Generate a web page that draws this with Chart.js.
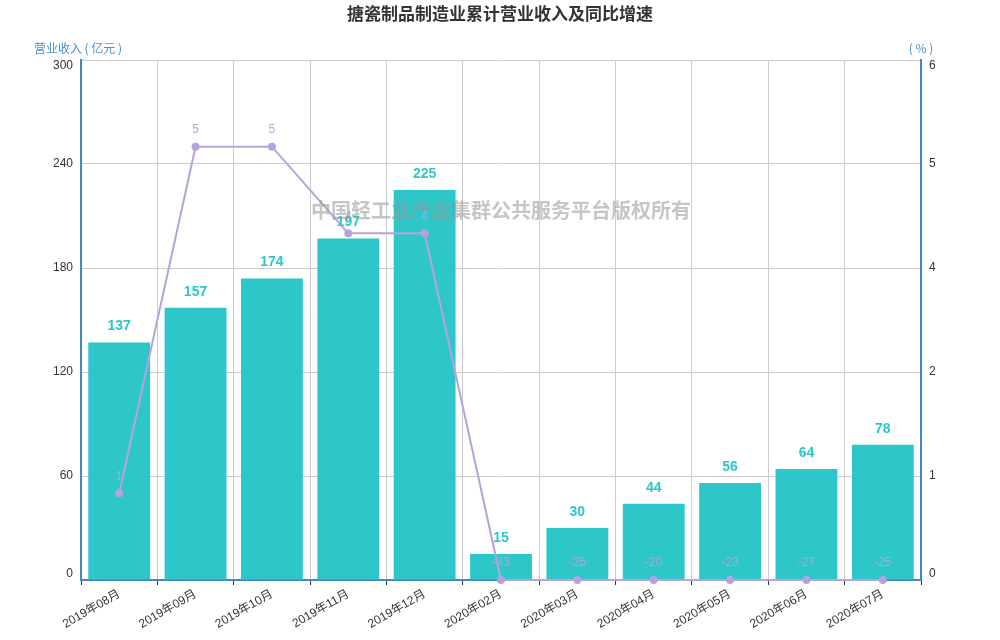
<!DOCTYPE html>
<html>
<head>
<meta charset="utf-8">
<script src="https://cdn.jsdelivr.net/npm/chart.js@4/dist/chart.umd.min.js"></script>
<style>
  html, body { margin: 0; padding: 0; background: #fff; }
  #wrap { width: 1000px; height: 640px; }
</style>
</head>
<body>
<div id="wrap"><canvas id="chart" width="1000" height="640"></canvas></div>
<script>
const months = ['2019年08月', '2019年09月', '2019年10月', '2019年11月', '2019年12月', '2020年02月', '2020年03月', '2020年04月', '2020年05月', '2020年06月', '2020年07月']
const revenue = [137, 157, 174, 197, 225, 15, 30, 44, 56, 64, 78]
const growth = [1, 5, 5, 4, 4, -33, -25, -20, -23, -27, -25]
const revenueTicks = [0, 60, 120, 180, 240, 300]
// right axis split into the same 5 steps as the left one, shown rounded
const growthTicks = [0, 1.2, 2.4, 3.6, 4.8, 6]

const FONT = 'Arial, "Liberation Sans", "Noto Sans CJK SC", sans-serif'
const CJK = '"Noto Sans CJK SC", "Microsoft YaHei", sans-serif'
const barColor = '#2ec7c9'
const lineColor = '#b6a2de'
const axisBlue = '#4187c4'

// right axis starts at 0, so negative growth sits on the bottom line
const growthShown = growth.map(v => Math.max(0, v))

// y labels drawn by hand so the end ones can sit inside the axis like the original
const drawAxisLabels = (ctx, scale, values, x, align) => {
  ctx.textAlign = align
  values.forEach((v, i) => {
    let y = scale.getPixelForValue(v)
    if (i === 0) y -= 6
    if (i === values.length - 1) y += 6
    ctx.fillText(String(Math.round(v)), x, y)
  })
}

const textPlugin = {
  id: 'texts',
  afterDatasetsDraw(chart) {
    const ctx = chart.ctx
    const area = chart.chartArea
    ctx.save()
    // line labels
    const lineMeta = chart.getDatasetMeta(0)
    ctx.font = '12px ' + FONT
    ctx.fillStyle = lineColor
    ctx.textAlign = 'center'
    ctx.textBaseline = 'bottom'
    lineMeta.data.forEach((pt, i) => {
      ctx.fillText(String(growth[i]), pt.x, pt.y - 11)
    })
    // bar labels
    const barMeta = chart.getDatasetMeta(1)
    ctx.font = 'bold 14px ' + FONT
    ctx.fillStyle = barColor
    barMeta.data.forEach((bar, i) => {
      ctx.fillText(String(revenue[i]), bar.x, bar.y - 9)
    })
    // watermark
    ctx.font = 'bold 20px ' + CJK
    ctx.fillStyle = 'rgba(150,150,150,0.55)'
    ctx.textBaseline = 'middle'
    ctx.fillText('中国轻工业产业集群公共服务平台版权所有', (area.left + area.right) / 2, 210)
    ctx.restore()
  },
  afterDraw(chart) {
    const ctx = chart.ctx
    const area = chart.chartArea
    ctx.save()
    ctx.textBaseline = 'middle'
    ctx.font = '12px ' + FONT
    ctx.fillStyle = '#333'
    drawAxisLabels(ctx, chart.scales.y, revenueTicks, area.left - 8, 'right')
    drawAxisLabels(ctx, chart.scales.y1, growthTicks, area.right + 8, 'left')
    ctx.textAlign = 'center'
    ctx.font = 'bold 17px ' + CJK
    ctx.fillStyle = '#333'
    ctx.fillText('搪瓷制品制造业累计营业收入及同比增速', 500, 14)
    ctx.font = '12px ' + CJK
    ctx.fillStyle = '#4a90cc'
    ctx.fillText('营业收入 ( 亿元 )', area.left - 3, 48)
    ctx.fillText('( % )', area.right, 48)
    ctx.restore()
  }
}

new Chart(document.getElementById('chart'), {
  data: {
    labels: months,
    datasets: [
      {
        type: 'line',
        data: growthShown,
        yAxisID: 'y1',
        borderColor: lineColor,
        backgroundColor: lineColor,
        borderWidth: 2,
        pointRadius: 3,
        pointHoverRadius: 3,
        tension: 0,
        clip: false,
        order: 0
      },
      {
        type: 'bar',
        data: revenue,
        yAxisID: 'y',
        backgroundColor: barColor,
        barPercentage: 0.81,
        categoryPercentage: 1,
        order: 1
      }
    ]
  },
  plugins: [textPlugin],
  options: {
    responsive: false,
    animation: false,
    layout: { padding: { top: 60, left: 0, right: 0, bottom: 0 } },
    plugins: {
      legend: { display: false },
      tooltip: { enabled: false },
      title: { display: false }
    },
    scales: {
      x: {
        offset: true,
        grid: { offset: true, color: '#ccc', tickColor: '#333', tickLength: 5 },
        border: { color: axisBlue, width: 2 },
        ticks: { color: '#333', font: { size: 12, family: FONT }, maxRotation: 30, minRotation: 30, padding: 2 },
        afterFit(scale) { scale.height = 60 }
      },
      y: {
        position: 'left',
        min: 0,
        max: 300,
        ticks: { stepSize: 60, display: false },
        grid: { color: '#ccc', drawTicks: false },
        border: { color: axisBlue, width: 2 },
        afterFit(scale) { scale.width = 81 }
      },
      y1: {
        position: 'right',
        min: 0,
        max: 6,
        ticks: { stepSize: 1.2, display: false },
        grid: { drawOnChartArea: false, drawTicks: false },
        border: { color: axisBlue, width: 2 },
        afterFit(scale) { scale.width = 79 }
      }
    }
  }
})
</script>
</body>
</html>
